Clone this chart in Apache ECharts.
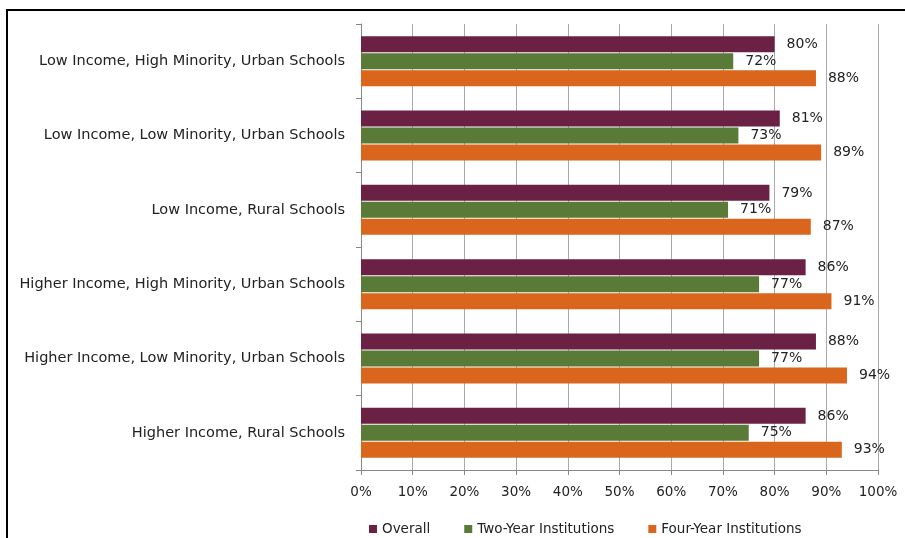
<!DOCTYPE html>
<html>
<head>
<meta charset="utf-8">
<script src="https://cdn.jsdelivr.net/npm/echarts@6/dist/echarts.min.js"></script>
<style>html,body{margin:0;padding:0;background:#fff;}#c{width:905px;height:538px;}</style>
</head>
<body>
<div id="c"></div>
<script>
const categories = [
  "Low Income, High Minority, Urban Schools",
  "Low Income, Low Minority, Urban Schools",
  "Low Income, Rural Schools",
  "Higher Income, High Minority, Urban Schools",
  "Higher Income, Low Minority, Urban Schools",
  "Higher Income, Rural Schools"
];
const overall = [80, 81, 79, 86, 88, 86];
const twoYear = [72, 73, 71, 77, 77, 75];
const fourYear = [88, 89, 87, 91, 94, 93];
const seriesNames = ["Overall", "Two-Year Institutions", "Four-Year Institutions"];

const FONT = "DejaVu Sans";
const chart = echarts.init(document.getElementById('c'), null, {renderer: 'canvas'});
const lbl = {show: true, position: 'right', distance: 12, formatter: '{c}%', color: '#222', fontFamily: FONT, fontSize: 14};
chart.setOption({
  animation: false,
  backgroundColor: '#fff',
  graphic: [{type: 'rect', shape: {x: 7, y: 10, width: 1000, height: 1000}, style: {fill: 'none', stroke: '#000', lineWidth: 2}, silent: true}],
  legend: {
    top: 517, left: 364, itemWidth: 8, itemHeight: 8, itemGap: 34,
    icon: 'rect',
    textStyle: {fontFamily: FONT, fontSize: 13.5, color: '#222'},
    data: seriesNames
  },
  grid: {left: 361, right: 27, top: 24, bottom: 68},
  xAxis: {
    type: 'value', min: 0, max: 100, interval: 10,
    axisLabel: {formatter: '{value}%', fontFamily: FONT, fontSize: 13.5, color: '#222', margin: 15},
    axisLine: {show: true, lineStyle: {color: '#888'}},
    axisTick: {show: true, length: 5, lineStyle: {color: '#888'}},
    splitLine: {show: true, lineStyle: {color: '#aaa'}}
  },
  yAxis: {
    type: 'category', inverse: true, data: categories,
    axisLabel: {fontFamily: FONT, fontSize: 14.5, color: '#222', margin: 16},
    axisLine: {show: true, lineStyle: {color: '#888'}},
    axisTick: {show: true, length: 5, lineStyle: {color: '#888'}}
  },
  series: [
    {name: seriesNames[0], type: 'bar', data: overall, barWidth: 16, barGap: '6%', itemStyle: {color: '#6B2144'}, label: lbl},
    {name: seriesNames[1], type: 'bar', data: twoYear, barWidth: 16, barGap: '6%', itemStyle: {color: '#5A7A37'}, label: lbl},
    {name: seriesNames[2], type: 'bar', data: fourYear, barWidth: 16, barGap: '6%', itemStyle: {color: '#D9661C'}, label: lbl}
  ]
});
</script>
</body>
</html>
